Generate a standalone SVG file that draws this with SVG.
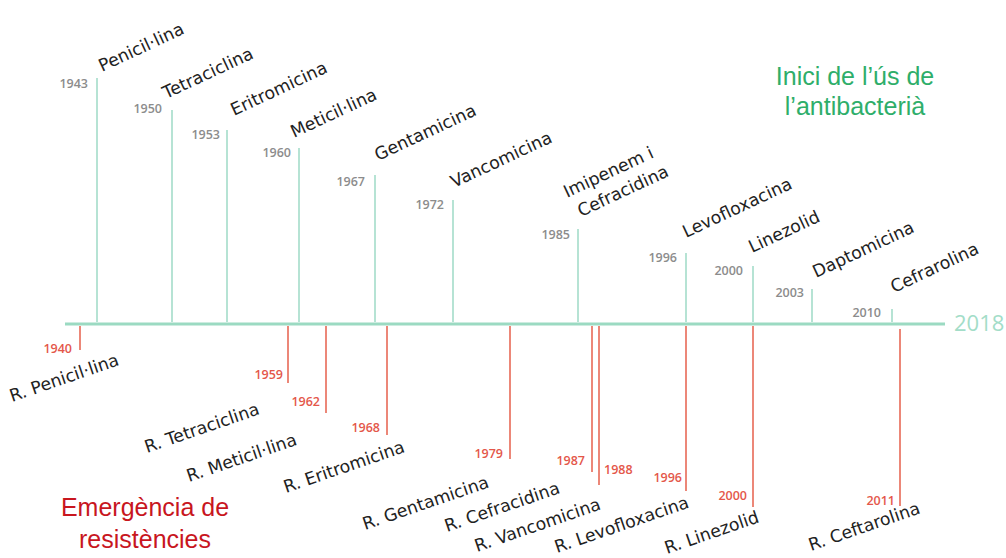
<svg xmlns="http://www.w3.org/2000/svg" width="1006" height="558" viewBox="0 0 1006 558">
<style>
.gt{stroke:#b6e3d4;stroke-width:2}
.rt{stroke:#ec8778;stroke-width:2}
.yg{font-family:"Open Sans","DejaVu Sans",sans-serif;font-weight:600;font-size:12.5px;fill:#8c8c8c;text-anchor:end}
.yr{font-family:"Open Sans","DejaVu Sans",sans-serif;font-weight:600;font-size:12.5px;fill:#e4574a;text-anchor:end}
.dl{font-family:"DejaVu Sans",sans-serif;font-size:17.3px;fill:#222}
.h{font-family:"Liberation Sans",Arial,sans-serif;font-size:25px;text-anchor:middle}
</style>
<rect width="1006" height="558" fill="#ffffff"/>
<g id="connectors">
<line x1="65" y1="324" x2="945" y2="324" stroke="#9bdac2" stroke-width="3"/>
<line class="gt" x1="97" y1="78" x2="97" y2="322"/>
<line class="gt" x1="172" y1="110" x2="172" y2="322"/>
<line class="gt" x1="227" y1="130" x2="227" y2="322"/>
<line class="gt" x1="299" y1="148" x2="299" y2="322"/>
<line class="gt" x1="375" y1="175" x2="375" y2="322"/>
<line class="gt" x1="453" y1="200" x2="453" y2="322"/>
<line class="gt" x1="578" y1="229" x2="578" y2="322"/>
<line class="gt" x1="686" y1="253" x2="686" y2="322"/>
<line class="gt" x1="753" y1="266" x2="753" y2="322"/>
<line class="gt" x1="812" y1="289" x2="812" y2="322"/>
<line class="gt" x1="892" y1="309" x2="892" y2="322"/>
<line class="rt" x1="80" y1="326" x2="80" y2="350"/>
<line class="rt" x1="288" y1="326" x2="288" y2="383"/>
<line class="rt" x1="326" y1="326" x2="326" y2="413"/>
<line class="rt" x1="387" y1="326" x2="387" y2="435"/>
<line class="rt" x1="510" y1="326" x2="510" y2="459"/>
<line class="rt" x1="592" y1="326" x2="592" y2="472"/>
<line class="rt" x1="599" y1="326" x2="599" y2="485"/>
<line class="rt" x1="686" y1="326" x2="686" y2="491"/>
<line class="rt" x1="753" y1="326" x2="753" y2="507"/>
<line class="rt" x1="900" y1="329" x2="900" y2="506"/>
</g>
<text x="954" y="331" font-family="Open Sans, DejaVu Sans, sans-serif" font-size="22" fill="#a3ddc8">2018</text>
<g id="headings">
<text class="h" x="855" y="85" fill="#2eae6a">Inici de l’ús de</text>
<text class="h" x="855" y="115" fill="#2eae6a">l’antibacterià</text>
<text class="h" x="145" y="516" fill="#c8161e">Emergència de</text>
<text class="h" x="145" y="548" fill="#c8161e">resistències</text>
</g>
<g id="n1943"><text class="yg" x="88" y="88">1943</text><text class="dl" transform="translate(102,72) rotate(-25)">Penicil·lina</text></g>
<g id="n1950"><text class="yg" x="162" y="113">1950</text><text class="dl" transform="translate(166,99) rotate(-25)">Tetraciclina</text></g>
<g id="n1953"><text class="yg" x="220" y="139">1953</text><text class="dl" transform="translate(234,116) rotate(-25)">Eritromicina</text></g>
<g id="n1960"><text class="yg" x="291" y="157">1960</text><text class="dl" transform="translate(294,138) rotate(-25)">Meticil·lina</text></g>
<g id="n1967"><text class="yg" x="365" y="186">1967</text><text class="dl" transform="translate(378,161) rotate(-25)">Gentamicina</text></g>
<g id="n1972"><text class="yg" x="444" y="209">1972</text><text class="dl" transform="translate(454,188) rotate(-25)">Vancomicina</text></g>
<g id="n1985"><text class="yg" x="570" y="239">1985</text><text class="dl" transform="translate(567,198) rotate(-25)">Imipenem i</text><text class="dl" transform="translate(581,217) rotate(-25)">Cefracidina</text></g>
<g id="n1996"><text class="yg" x="677" y="262">1996</text><text class="dl" transform="translate(686,238) rotate(-25)">Levofloxacina</text></g>
<g id="n2000"><text class="yg" x="743" y="275">2000</text><text class="dl" transform="translate(752,253) rotate(-25)">Linezolid</text></g>
<g id="n2003"><text class="yg" x="804" y="297">2003</text><text class="dl" transform="translate(816,278) rotate(-25)">Daptomicina</text></g>
<g id="n2010"><text class="yg" x="881" y="317">2010</text><text class="dl" transform="translate(894,293) rotate(-25)">Cefrarolina</text></g>
<g id="r1940"><text class="yr" x="72" y="353">1940</text><text class="dl" transform="translate(12,402) rotate(-19)">R. Penicil·lina</text></g>
<g id="r1959"><text class="yr" x="283" y="379">1959</text><text class="dl" transform="translate(147,453) rotate(-19)">R. Tetraciclina</text></g>
<g id="r1962"><text class="yr" x="320" y="406">1962</text><text class="dl" transform="translate(189,482) rotate(-19)">R. Meticil·lina</text></g>
<g id="r1968"><text class="yr" x="380" y="432">1968</text><text class="dl" transform="translate(286,493) rotate(-19)">R. Eritromicina</text></g>
<g id="r1979"><text class="yr" x="503" y="458">1979</text><text class="dl" transform="translate(365,530) rotate(-19)">R. Gentamicina</text></g>
<g id="r1987"><text class="yr" x="585" y="465">1987</text><text class="dl" transform="translate(447,532) rotate(-19)">R. Cefracidina</text></g>
<g id="r1988"><text class="yr" x="604" y="474" style="text-anchor:start">1988</text><text class="dl" transform="translate(477,552) rotate(-19)">R. Vancomicina</text></g>
<g id="r1996"><text class="yr" x="682" y="482">1996</text><text class="dl" transform="translate(557,553) rotate(-19)">R. Levofloxacina</text></g>
<g id="r2000"><text class="yr" x="747" y="500">2000</text><text class="dl" transform="translate(667,554) rotate(-19)">R. Linezolid</text></g>
<g id="r2011"><text class="yr" x="895" y="505">2011</text><text class="dl" transform="translate(811,551) rotate(-19)">R. Ceftarolina</text></g>
</svg>
